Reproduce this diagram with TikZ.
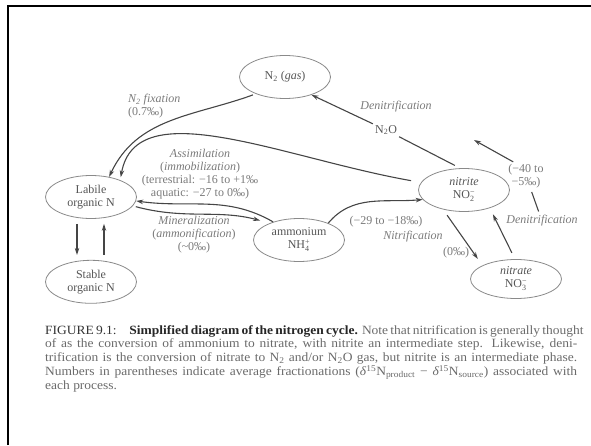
\documentclass[tikz,border=0pt]{standalone}
\usepackage{fontspec}
\usepackage{amsmath}
\setmainfont{Liberation Serif}
\newfontfamily\capfont[FakeStretch=1.07]{Liberation Serif}
\usetikzlibrary{positioning,shapes.geometric,arrows.meta}

\definecolor{inkline}{HTML}{454545}
\definecolor{rimgray}{HTML}{8A8A8A}
\definecolor{textgray}{HTML}{555555}
\definecolor{labgray}{HTML}{7A7A7A}
\definecolor{capgray}{HTML}{6A6A6A}

\newcommand{\ionof}[2]{$_{\text{#1}}^{\text{#2}}$}
\newcommand{\capline}[1]{\makebox[532pt][s]{#1}}

\begin{document}
\begin{tikzpicture} [
	x=1pt,y=1pt,
	text centered,
	node distance=41pt,
	font=\fontsize{12}{13}\selectfont,
	ncycle/.style={
		ellipse,draw=rimgray,line width=0.8pt,text=textgray,
		minimum width=91pt,minimum height=43pt,inner sep=0pt,align=center
	},
	nlab/.style={
		text=labgray,inner sep=1pt,align=center
	},
	flux/.style={
		draw=inkline,line width=1.1pt,-{Stealth[length=7pt,width=4.5pt]}
	},
	link/.style={
		draw=inkline,line width=1.1pt
	}
]
\useasboundingbox (0,0) rectangle (591,445);
\draw [line width=2.4pt] (8,0) -- (8,439) -- (591,439);

\node [ncycle]	(n2)	at (285,368)	{N\textsubscript{2} (\textit{gas})};
\node [ncycle]	(labile)	at (91,248)	{Labile\\organic N};
\node [ncycle]	(stable)[below=of labile]	{Stable\\organic N};
\node [ncycle]	(ammonium)	at (299,205)	{ammonium\\NH\ionof{4}{+}};
\node [ncycle]	(nitrite)	at (464,255)	{\textit{nitrite}\\NO\ionof{2}{−}};
\node [ncycle,minimum height=39pt]	(nitrate)	at (516,166)	{\textit{nitrate}\\NO\ionof{3}{−}};

% process labels
\node [nlab,align=left,anchor=west]	(fixlab)	at (127,339)	{\textit{N\textsubscript{2} fixation}\\(0.7‰)};
\node [nlab]	(assimlab)	at (200,271)	{\textit{Assimilation}\\(\textit{immobilization})\\(terrestrial: −16 to +1‰\\aquatic: −27 to 0‰)};
\node [nlab]	(minlab)	at (194,210)	{\textit{Mineralization}\\(\textit{ammonification})\\(\textasciitilde0‰)};
\node [nlab]	(nitfrac)	at (386,223)	{(−29 to −18‰)};
\node [nlab]	(nitlab)	at (413,208)	{\textit{Nitrification}};
\node [nlab]	(zerofrac)	at (456,192)	{(0‰)};
\node [nlab]	(denlab)	at (396,338)	{\textit{Denitrification}};
\node [nlab,text=textgray,inner sep=2pt]	(no)	at (386,315)	{N\textsubscript{2}O};
\node [nlab]	(denright)	at (542,224)	{\textit{Denitrification}};
\node [nlab]	(fracden)	at (526,269)	{(−40 to\\−5‰)};
\coordinate	(dentip)	at (474,305);

% fluxes
\draw [flux,shorten <=3pt]	(n2.210) to [out=200,in=65] (labile.48);
\draw [flux,shorten <=10pt,shorten >=3pt]	(nitrite.170) .. controls +(170:140) and +(80:90) .. (labile.30);
\draw [flux]	(ammonium.145) to [out=150,in=-8] (labile.-5);
\draw [flux,shorten <=3pt,shorten >=10pt]	(labile.-12) to [out=-15,in=165] (ammonium.150);
\draw [flux]	(ammonium.30) to [out=50,in=185] (nitrite.193);
\draw [flux,shorten <=7pt,shorten >=8pt]	(nitrite.223) -- (nitrate.158);
\draw [flux,shorten <=7pt,shorten >=7pt]	(nitrate.93) -- (nitrite.-35);
\draw [link,shorten <=6pt]	(nitrite.100) -- (no);
\draw [flux]	(no) -- (n2.-34);
\draw [link,shorten <=3pt,shorten >=3pt]	(denright) -- (fracden);
\draw [flux,shorten <=2pt]	(fracden.130) -- (dentip);
\draw [flux,shorten <=5pt,shorten >=5pt]	([xshift=-14pt]labile.south) -- ([xshift=-14pt]stable.north);
\draw [flux,shorten <=5pt,shorten >=5pt]	([xshift=13pt]stable.north) -- ([xshift=13pt]labile.south);

% caption
\node [anchor=north west,inner sep=0pt,align=left,text=capgray,
	font=\capfont\fontsize{12.6}{13.8}\selectfont]	(caption)	at (45,120)	{%
\capline{\textcolor{black!80}{FIGURE 9.1:}\quad\textcolor{black!85}{\textbf{Simplified diagram of the nitrogen cycle.}} Note that nitrification is generally thought}\\
\capline{of as the conversion of ammonium to nitrate, with nitrite an intermediate step. Likewise, deni-}\\
\capline{trification is the conversion of nitrate to N\textsubscript{2} and/or N\textsubscript{2}O gas, but nitrite is an intermediate phase.}\\
\capline{Numbers in parentheses indicate average fractionations (\textit{δ}\textsuperscript{15}N\textsubscript{product} − \textit{δ}\textsuperscript{15}N\textsubscript{source}) associated with}\\
each process.};
\end{tikzpicture}
\end{document}
